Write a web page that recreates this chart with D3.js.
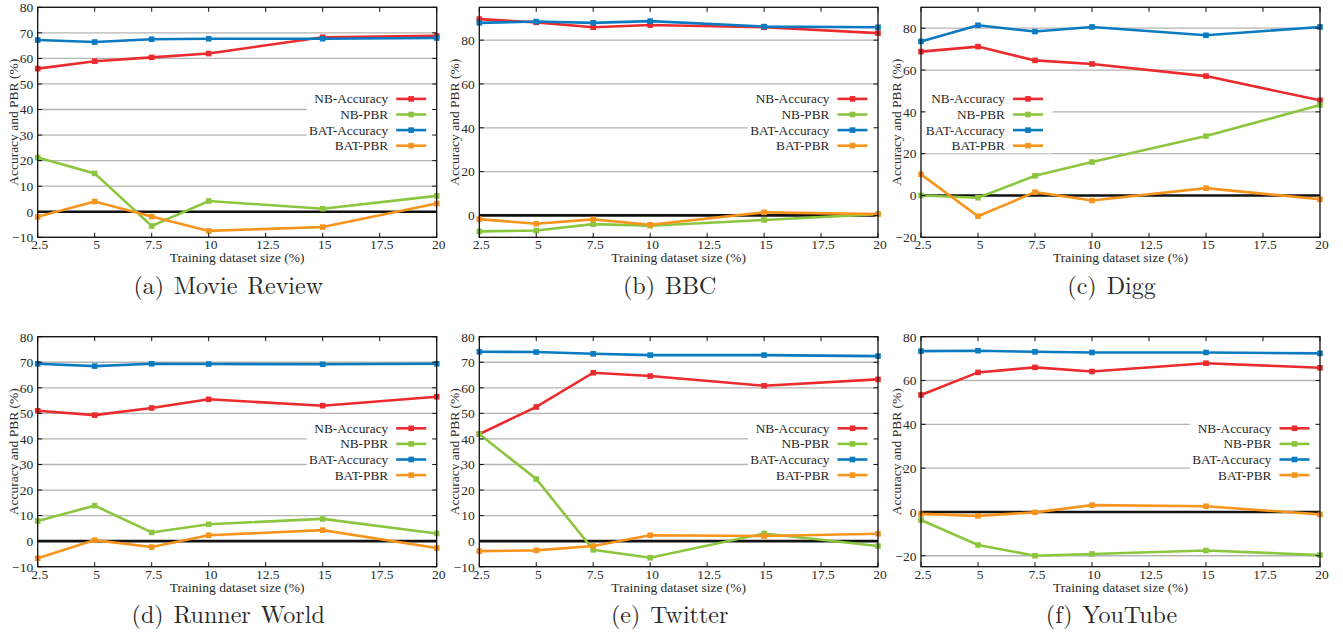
<!DOCTYPE html>
<html>
<head>
<meta charset="utf-8">
<script src="https://cdn.jsdelivr.net/npm/d3@7"></script>
<style>
  html, body { margin: 0; padding: 0; background: #fff; }
  svg { display: block; }
</style>
</head>
<body>
<svg id="chart" width="1343" height="633"></svg>
<script>
// ---------- data ----------
const trainingSizes = [2.5, 5, 7.5, 10, 15, 20];
const xTickValues = [2.5, 5, 7.5, 10, 12.5, 15, 17.5, 20];
const seriesNames = ["NB-Accuracy", "NB-PBR", "BAT-Accuracy", "BAT-PBR"];
const panelCaptions = ["(a) Movie Review", "(b) BBC", "(c) Digg", "(d) Runner World", "(e) Twitter", "(f) YouTube"];

const movieNBAcc  = [56.0, 58.9, 60.4, 61.9, 68.3, 68.8];
const movieNBPBR  = [21.2, 15.0, -5.6, 4.2, 1.2, 6.2];
const movieBATAcc = [67.2, 66.4, 67.5, 67.7, 67.7, 68.0];
const movieBATPBR = [-2.0, 4.0, -1.9, -7.5, -6.0, 3.2];

const bbcNBAcc  = [89.6, 88.1, 85.9, 86.9, 85.9, 83.2];
const bbcNBPBR  = [-7.3, -6.9, -4.0, -4.7, -2.1, 0.6];
const bbcBATAcc = [87.9, 88.5, 87.9, 88.7, 86.2, 85.9];
const bbcBATPBR = [-1.7, -3.8, -1.8, -4.3, 1.4, 0.6];

const diggNBAcc  = [68.8, 71.2, 64.6, 62.9, 57.1, 45.5];
const diggNBPBR  = [0.0, -1.1, 9.4, 16.0, 28.4, 43.3];
const diggBATAcc = [73.7, 81.4, 78.4, 80.6, 76.6, 80.6];
const diggBATPBR = [10.1, -9.9, 1.6, -2.4, 3.5, -1.8];

const runnerNBAcc  = [51.0, 49.3, 52.1, 55.5, 53.0, 56.5];
const runnerNBPBR  = [7.9, 13.9, 3.4, 6.6, 8.7, 3.0];
const runnerBATAcc = [69.4, 68.5, 69.4, 69.3, 69.2, 69.4];
const runnerBATPBR = [-6.7, 0.4, -2.3, 2.3, 4.3, -2.7];

const twitterNBAcc  = [41.9, 52.5, 65.9, 64.6, 60.8, 63.3];
const twitterNBPBR  = [41.9, 24.3, -3.4, -6.5, 3.0, -1.9];
const twitterBATAcc = [74.1, 74.0, 73.3, 72.8, 72.8, 72.4];
const twitterBATPBR = [-3.9, -3.6, -1.9, 2.3, 2.0, 2.9];

const youtubeNBAcc  = [53.4, 63.7, 66.0, 64.1, 67.9, 65.8];
const youtubeNBPBR  = [-3.7, -15.1, -20.0, -19.2, -17.6, -19.7];
const youtubeBATAcc = [73.4, 73.6, 73.1, 72.8, 72.8, 72.4];
const youtubeBATPBR = [-0.9, -1.8, -0.2, 3.1, 2.6, -1.1];

const yDomainA = [-10, 80], yTicksA = [-10, 0, 10, 20, 30, 40, 50, 60, 70, 80];
const yDomainB = [-10, 95], yTicksB = [0, 20, 40, 60, 80];
const yDomainC = [-20, 90], yTicksC = [-20, 0, 20, 40, 60, 80];
const yDomainD = [-10, 80], yTicksD = [-10, 0, 10, 20, 30, 40, 50, 60, 70, 80];
const yDomainE = [-10, 80], yTicksE = [-10, 0, 10, 20, 30, 40, 50, 60, 70, 80];
const yDomainF = [-25, 80], yTicksF = [-20, 0, 20, 40, 60, 80];

// ---------- styles / layout ----------
const seriesColors = ["#ec2b2e", "#8cc63f", "#0b7bc1", "#f7941d"];
const plotFont = "'Liberation Serif', 'Tinos', 'Times New Roman', serif";
const captionFont = "'Latin Modern Roman', 'Liberation Serif', serif";
const textColor = "#2a2a2a";
const colLeft = [37.7, 479.3, 921];
const colRight = [436.7, 878, 1320];
const rowTop = [7.3, 336.7];
const rowBottom = [237.3, 566.7];

const panels = [
  { cap: panelCaptions[0], series: [movieNBAcc, movieNBPBR, movieBATAcc, movieBATPBR], dom: yDomainA, ticks: yTicksA, col: 0, row: 0, keyLeft: false },
  { cap: panelCaptions[1], series: [bbcNBAcc, bbcNBPBR, bbcBATAcc, bbcBATPBR], dom: yDomainB, ticks: yTicksB, col: 1, row: 0, keyLeft: false },
  { cap: panelCaptions[2], series: [diggNBAcc, diggNBPBR, diggBATAcc, diggBATPBR], dom: yDomainC, ticks: yTicksC, col: 2, row: 0, keyLeft: true },
  { cap: panelCaptions[3], series: [runnerNBAcc, runnerNBPBR, runnerBATAcc, runnerBATPBR], dom: yDomainD, ticks: yTicksD, col: 0, row: 1, keyLeft: false },
  { cap: panelCaptions[4], series: [twitterNBAcc, twitterNBPBR, twitterBATAcc, twitterBATPBR], dom: yDomainE, ticks: yTicksE, col: 1, row: 1, keyLeft: false },
  { cap: panelCaptions[5], series: [youtubeNBAcc, youtubeNBPBR, youtubeBATAcc, youtubeBATPBR], dom: yDomainF, ticks: yTicksF, col: 2, row: 1, keyLeft: false }
];

const svg = d3.select("#chart");

function styleText(sel, size, fam) {
  return sel.style("font-family", fam || plotFont).style("font-size", size + "px").style("fill", textColor);
}

panels.forEach(p => {
  const L = colLeft[p.col], R = colRight[p.col], T = rowTop[p.row], B = rowBottom[p.row];
  const x = d3.scaleLinear().domain([2.5, 20]).range([L, R]);
  const y = d3.scaleLinear().domain(p.dom).range([B, T]);
  const g = svg.append("g");
  const cy = (T + B) / 2;

  // grid lines
  g.selectAll(".grid").data(p.ticks.filter(t => t !== 0)).enter().append("line")
    .attr("x1", L).attr("x2", R).attr("y1", d => y(d)).attr("y2", d => y(d))
    .attr("stroke", "#b4b4b4").attr("stroke-width", 1.3);

  // key background (opaque)
  const keyL = p.keyLeft ? L + 2.5 : R - 130;
  g.append("rect").attr("x", keyL).attr("y", cy - 31).attr("width", 129).attr("height", 62).attr("fill", "#fff");

  // zero line
  g.append("line").attr("x1", L).attr("x2", R).attr("y1", y(0)).attr("y2", y(0))
    .attr("stroke", "#111").attr("stroke-width", 2.6);

  // series
  const line = d3.line().x((d, i) => x(trainingSizes[i])).y(d => y(d));
  p.series.forEach((vals, si) => {
    g.append("path").datum(vals).attr("d", line).attr("fill", "none")
      .attr("stroke", seriesColors[si]).attr("stroke-width", 2.6).attr("stroke-linejoin", "miter");
    g.selectAll(".m" + si).data(vals).enter().append("rect")
      .attr("x", (d, i) => x(trainingSizes[i]) - 2.8).attr("y", d => y(d) - 2.8)
      .attr("width", 5.6).attr("height", 5.6).attr("fill", seriesColors[si]);
  });

  // key
  const rowOff = [-23.4, -7.8, 7.8, 23.4];
  seriesNames.forEach((name, si) => {
    const ry = cy + rowOff[si];
    styleText(g.append("text").attr("x", keyL + 81.5).attr("y", ry).attr("text-anchor", "end")
      .attr("dominant-baseline", "central"), 13.3).text(name);
    g.append("line").attr("x1", keyL + 89.5).attr("x2", keyL + 119.5).attr("y1", ry).attr("y2", ry)
      .attr("stroke", seriesColors[si]).attr("stroke-width", 2.6);
    g.append("rect").attr("x", keyL + 104.5 - 2.8).attr("y", ry - 2.8).attr("width", 5.6).attr("height", 5.6)
      .attr("fill", seriesColors[si]);
  });

  // border
  g.append("rect").attr("x", L).attr("y", T).attr("width", R - L).attr("height", B - T)
    .attr("fill", "none").attr("stroke", "#111").attr("stroke-width", 1.3);

  // ticks (inward, mirrored)
  const tl = 4.5;
  xTickValues.forEach(v => {
    g.append("line").attr("x1", x(v)).attr("x2", x(v)).attr("y1", B).attr("y2", B - tl).attr("stroke", "#111").attr("stroke-width", 1);
    g.append("line").attr("x1", x(v)).attr("x2", x(v)).attr("y1", T).attr("y2", T + tl).attr("stroke", "#111").attr("stroke-width", 1);
  });
  p.ticks.forEach(v => {
    g.append("line").attr("x1", L).attr("x2", L + tl).attr("y1", y(v)).attr("y2", y(v)).attr("stroke", "#111").attr("stroke-width", 1);
    g.append("line").attr("x1", R).attr("x2", R - tl).attr("y1", y(v)).attr("y2", y(v)).attr("stroke", "#111").attr("stroke-width", 1);
  });

  // axes via d3 (labels only)
  const xAxis = d3.axisBottom(x).tickValues(xTickValues).tickSize(0).tickPadding(0).tickFormat(d3.format("~g"));
  const gx = g.append("g").attr("transform", `translate(1.5,${B + 2.5})`).call(xAxis);
  gx.attr("font-family", null).attr("font-size", null);
  gx.select(".domain").remove();
  styleText(gx.selectAll("text"), 13.5).attr("dy", "0.71em");
  const yAxis = d3.axisLeft(y).tickValues(p.ticks).tickSize(0).tickPadding(4.5).tickFormat(d3.format("~g"));
  const gy = g.append("g").attr("transform", `translate(${L},0)`).call(yAxis);
  gy.attr("font-family", null).attr("font-size", null);
  gy.select(".domain").remove();
  styleText(gy.selectAll("text"), 13.5);

  // axis titles
  styleText(g.append("text").attr("x", (L + R) / 2).attr("y", B + 20.5).attr("text-anchor", "middle")
    .attr("dominant-baseline", "central"), 13.5).text("Training dataset size (%)");
  styleText(g.append("text").attr("transform", `translate(${L - 24.5},${cy}) rotate(-90)`).attr("text-anchor", "middle")
    .attr("dominant-baseline", "central"), 13.5).text("Accuracy and PBR (%)");

  // caption
  styleText(g.append("text").attr("x", (L + R) / 2 - 9).attr("y", B + 46.5).attr("text-anchor", "middle")
    .attr("dominant-baseline", "central"), 24, captionFont).style("word-spacing", "2px").text(p.cap);
});
</script>
</body>
</html>
